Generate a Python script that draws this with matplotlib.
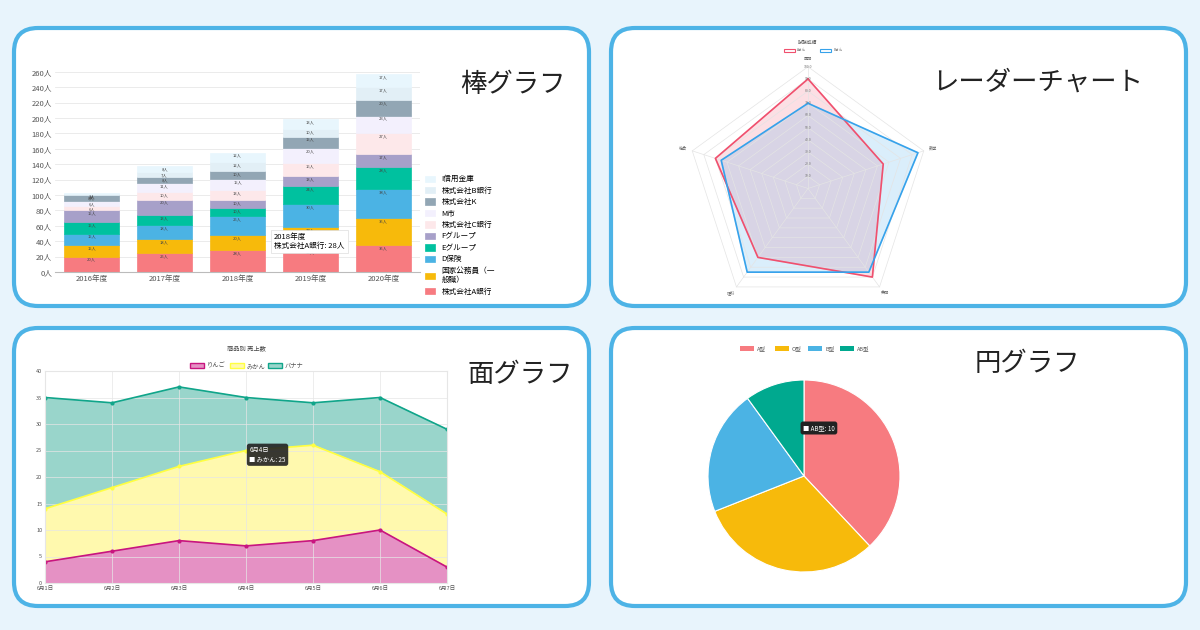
import numpy as np
import matplotlib.pyplot as plt
from matplotlib.patches import FancyBboxPatch

plt.rcParams['font.family'] = ['Noto Sans CJK JP', 'DejaVu Sans']

# bar chart data
years = ['2016年度', '2017年度', '2018年度', '2019年度', '2020年度']
companies = ['株式会社A銀行', '国家公務員（一\n般職）', 'D保険', 'Eグループ', 'Fグループ',
             '株式会社C銀行', 'M市', '株式会社K', '株式会社B銀行', 'I信用金庫']
hires = [
    [20, 25, 28, 30, 35],
    [15, 18, 20, 28, 35],
    [15, 18, 25, 30, 38],
    [15, 13, 10, 24, 28],
    [15, 20, 10, 13, 17],
    [6, 10, 13, 16, 27],
    [6, 11, 15, 20, 23],
    [8, 8, 10, 15, 20],
    [1, 7, 12, 10, 17],
    [1, 8, 12, 13, 17],
]
bar_colors = ['#f77b80', '#f7ba0b', '#4bb3e4', '#00c19f', '#a7a0c9',
              '#fde8ea', '#f3f0fd', '#92a6b4', '#e2eff6', '#e8f6fd']

# radar data
subjects = ['国語', '数学', '英語', '理科', '社会']
score_a = [90, 65, 90, 70, 80]
score_b = [70, 95, 85, 85, 75]

# area data
days = ['6月1日', '6月2日', '6月3日', '6月4日', '6月5日', '6月6日', '6月7日']
apple = [4, 6, 8, 7, 8, 10, 3]
orange = [14, 18, 22, 25, 26, 21, 13]
banana = [35, 34, 37, 35, 34, 35, 29]

# pie data
blood = ['A型', 'O型', 'B型', 'AB型']
blood_counts = [38, 31, 21, 10]
pie_colors = ['#f77b80', '#f7ba0b', '#4bb3e4', '#00a98f']

W, H = 1200, 630
fig = plt.figure(figsize=(12, 6.3), dpi=100)
fig.patch.set_facecolor('#e8f4fc')


def px(x0, y0, x1, y1):
    return [x0 / W, 1 - y1 / H, (x1 - x0) / W, (y1 - y0) / H]


for (x0, y0, x1, y1) in [(14, 28, 589, 306), (611, 28, 1186, 306),
                         (14, 328, 589, 606), (611, 328, 1186, 606)]:
    fig.patches.append(FancyBboxPatch(
        (x0 / W, 1 - y1 / H), (x1 - x0) / W, (y1 - y0) / H,
        boxstyle='round,pad=0,rounding_size=0.02', transform=fig.transFigure,
        facecolor='white', edgecolor='#4db3e6', linewidth=3, mutation_aspect=W / H,
        zorder=-10))

for text, x, y in [('棒グラフ', 513, 84), ('レーダーチャート', 1038, 82),
                   ('面グラフ', 520, 375), ('円グラフ', 1027, 364)]:
    fig.text(x / W, 1 - y / H, text, fontsize=19, ha='center', va='center', color='#222')

# --- bar chart
ax = fig.add_axes(px(55, 68, 420, 272))
ax.patch.set_alpha(0)
idx = np.arange(len(years))
bottom = np.zeros(len(years))
handles = []
for name, vals, col in zip(companies, hires, bar_colors):
    vals = np.array(vals)
    b = ax.bar(idx, vals, 0.75, bottom=bottom, color=col, edgecolor=col, linewidth=0.5, label=name)
    for i, v in enumerate(vals):
        ax.text(i, bottom[i] + v - 4, f'{v}人', fontsize=3, ha='center', va='center', color='#444')
    bottom += vals
    handles.append(b)
ax.set_ylim(0, 265)
ax.set_xlim(-0.5, 4.5)
ax.set_yticks(range(0, 261, 20))
ax.set_yticklabels([f'{v}人' for v in range(0, 261, 20)], fontsize=5.5, color='#555')
ax.set_xticks(idx)
ax.set_xticklabels(years, fontsize=5.5, color='#555')
ax.grid(axis='y', color='#e8e8e8', linewidth=0.6)
ax.set_axisbelow(True)
for s in ['top', 'right', 'left']:
    ax.spines[s].set_visible(False)
ax.spines['bottom'].set_color('#bbb')
ax.tick_params(length=0, pad=2)
ax.legend(handles[::-1], companies[::-1], loc='upper left', bbox_to_anchor=(1.0, 0.5),
          fontsize=5.5, frameon=False, handlelength=1.3, handleheight=0.9,
          labelspacing=0.45, borderaxespad=0.3)
ax.annotate(f'{years[2]}\n{companies[0]}: {hires[0][2]}人', xy=(2.45, hires[0][2]),
            xytext=(2.5, 40), fontsize=5.5, ha='left', va='center',
            bbox=dict(boxstyle='square,pad=0.4', fc='white', ec='#ddd', lw=0.5))

# --- radar chart
ax = fig.add_axes(px(678, 40, 938, 298))
ax.set_aspect('equal')
ax.axis('off')
theta = np.linspace(0, 2 * np.pi, 6)[:-1]
tt = np.append(theta, theta[0])
for r in range(10, 101, 10):
    ax.plot(r * np.sin(tt), r * np.cos(tt), color='#e4e4e4', lw=0.5)
    ax.text(0, r, f'{r}.0', fontsize=2.5, ha='center', va='center', color='#777')
for t, lab in zip(theta, subjects):
    ax.plot([0, 100 * np.sin(t)], [0, 100 * np.cos(t)], color='#e4e4e4', lw=0.5)
    ax.text(108 * np.sin(t), 106 * np.cos(t), lab, fontsize=3, ha='center', va='center', color='#666')
for vals, col in [(score_a, '#f0506e'), (score_b, '#36a2eb')]:
    v = np.append(vals, vals[0])
    ax.fill(v * np.sin(tt), v * np.cos(tt), color=col, alpha=0.18)
    ax.plot(v * np.sin(tt), v * np.cos(tt), color=col, lw=1.2)
ax.set_xlim(-105, 105)
ax.set_ylim(-90, 122)
ax.text(0, 120, '試験成績', fontsize=3.5, ha='center', va='center', color='#555')
for x, lab, col in [(-20, 'Aさん', '#f0506e'), (10, 'Bさん', '#36a2eb')]:
    ax.add_patch(plt.Rectangle((x, 112), 9, 3, fc='white', ec=col, lw=0.8))
    ax.text(x + 11, 113.5, lab, fontsize=2.5, va='center', color='#666')

# --- area chart
ax = fig.add_axes(px(45, 371, 447, 583))
ax.patch.set_alpha(0)
x = np.arange(len(days))
for vals, name, line, fill in [(banana, 'バナナ', '#10a58a', '#99d5cb'),
                               (orange, 'みかん', '#ffff40', '#fff9ae'),
                               (apple, 'りんご', '#c8157f', '#e591c4')]:
    ax.fill_between(x, 0, vals, color=fill)
    ax.plot(x, vals, color=line, lw=1.2, marker='o', ms=2, label=name)
ax.set_xlim(0, 6)
ax.set_ylim(0, 40)
ax.set_xticks(x)
ax.set_xticklabels(days, fontsize=4, color='#555')
ax.set_yticks(range(0, 41, 5))
ax.tick_params(labelsize=4, length=0, labelcolor='#555', pad=2)
ax.grid(color='#e6e6e6', lw=0.5)
for s in ax.spines.values():
    s.set_color('#e6e6e6')
fig.text(246 / W, 1 - 350 / H, '商品別 売上数', fontsize=4.5, ha='center', color='#444')
for xx, name, line, fill in [(190, 'りんご', '#c8157f', '#e591c4'),
                             (230, 'みかん', '#ffff40', '#fff9ae'),
                             (268, 'バナナ', '#10a58a', '#99d5cb')]:
    fig.patches.append(plt.Rectangle((xx / W, 1 - 368 / H), 14 / W, 5 / H, fc=fill, ec=line,
                                     lw=1, transform=fig.transFigure))
    fig.text((xx + 17) / W, 1 - 366 / H, name, fontsize=4.5, va='center', color='#555')
ax.annotate(f'{days[3]}\n■ みかん: {orange[3]}', xy=(3, orange[3]), xytext=(3.05, orange[3] - 0.8),
            fontsize=4.5, color='white', va='center',
            bbox=dict(boxstyle='round,pad=0.4', fc='#222', ec='none', alpha=0.9))

# --- pie chart
ax = fig.add_axes(px(684, 356, 924, 596))
ax.pie(blood_counts, colors=pie_colors, startangle=90, counterclock=False,
       wedgeprops=dict(edgecolor='white', linewidth=0.8))
ax.set_aspect('equal')
ax.text(-0.01, 0.5, f'■ {blood[3]}: {blood_counts[3]}', fontsize=4.5, color='white', va='center',
        bbox=dict(boxstyle='round,pad=0.4', fc='#222', ec='none'))
for xx, name, col in [(740, blood[0], pie_colors[0]), (775, blood[1], pie_colors[1]),
                      (808, blood[2], pie_colors[2]), (840, blood[3], pie_colors[3])]:
    fig.patches.append(plt.Rectangle((xx / W, 1 - 351 / H), 14 / W, 5 / H, fc=col, ec='none',
                                     transform=fig.transFigure))
    fig.text((xx + 17) / W, 1 - 348.5 / H, name, fontsize=4, va='center', color='#555')

fig.savefig('out.png', dpi=100, facecolor=fig.get_facecolor())
